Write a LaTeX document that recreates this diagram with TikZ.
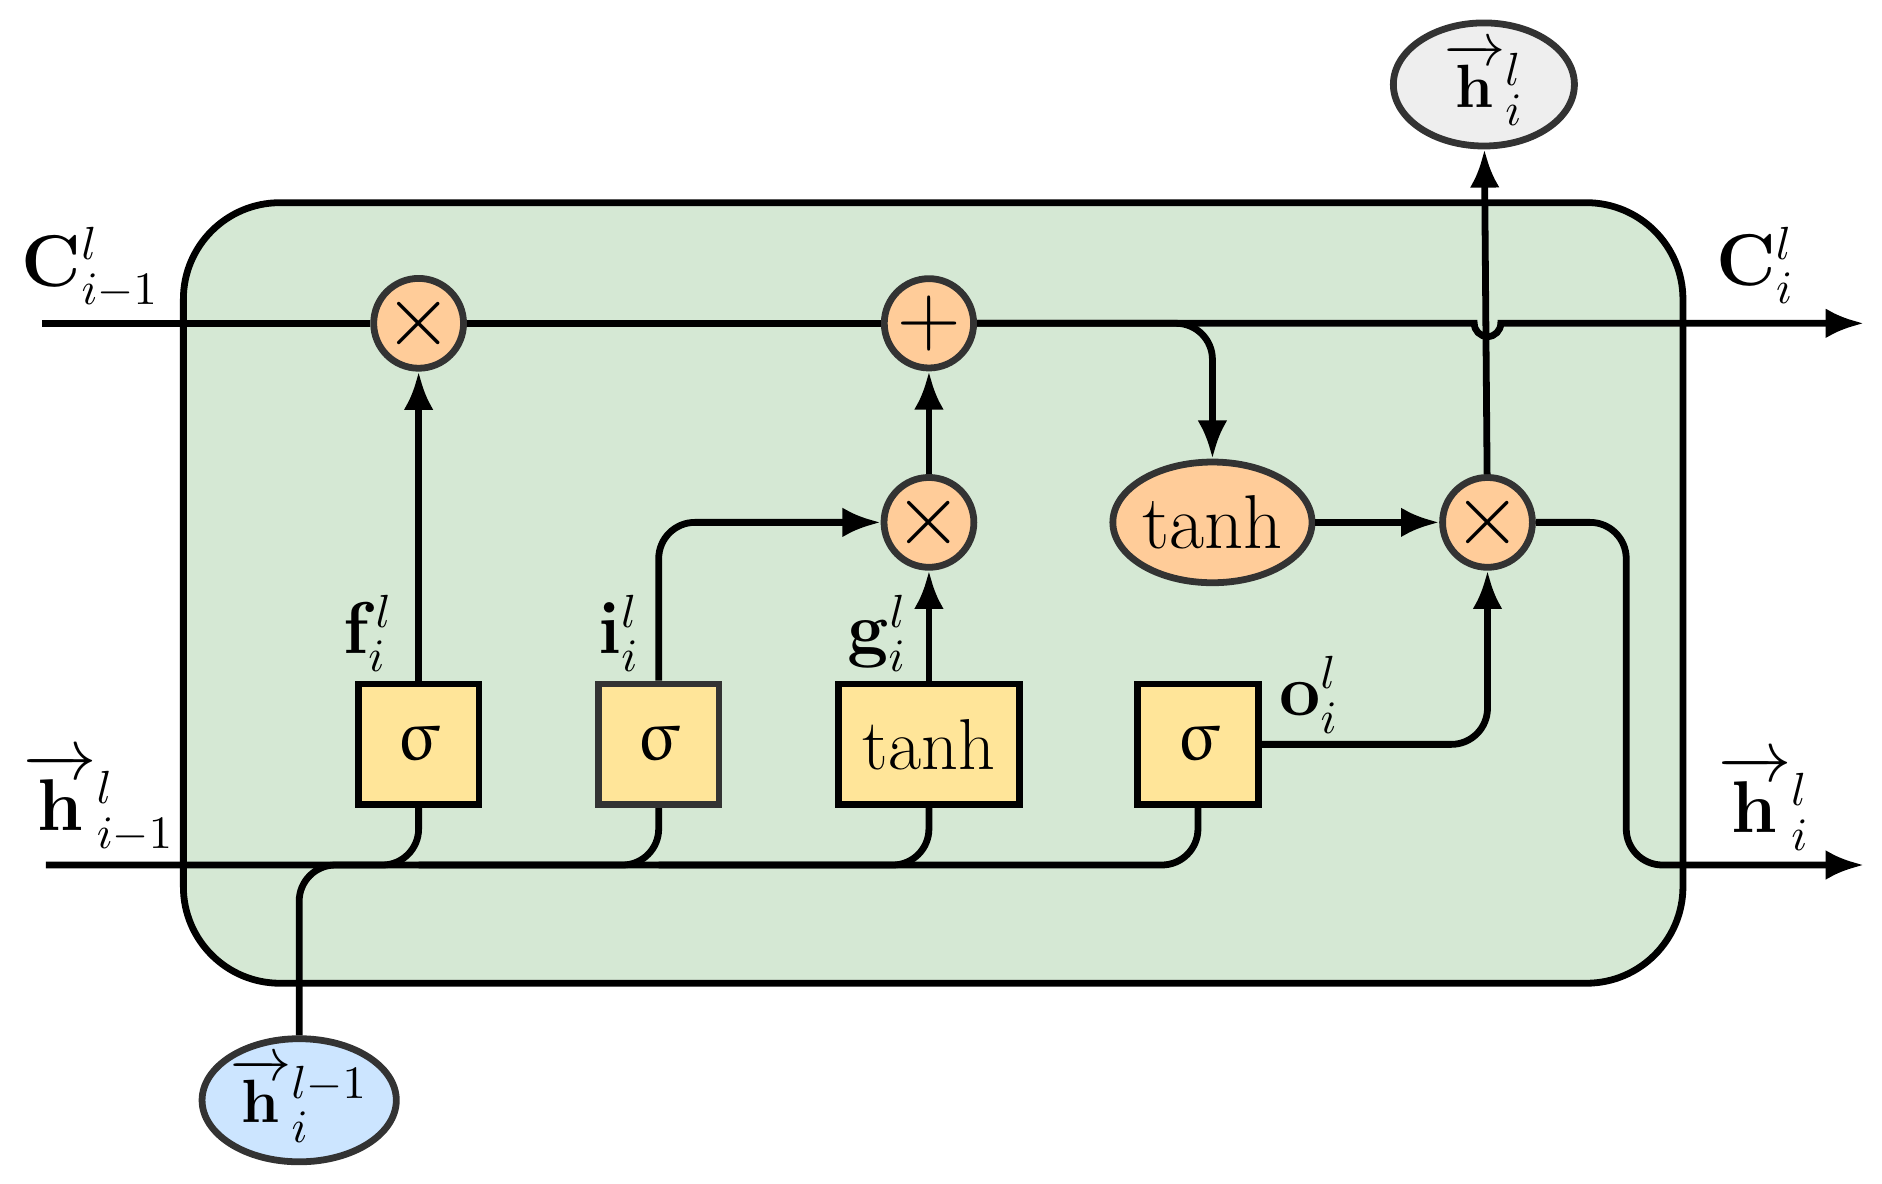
\documentclass[tikz,border=0pt]{standalone}
\usepackage{amsmath,upgreek}
\usetikzlibrary{arrows.meta,shapes.geometric}
\definecolor{cellg}{HTML}{D5E8D4}
\definecolor{opc}{HTML}{FFCC99}
\definecolor{boxy}{HTML}{FFE599}
\definecolor{outg}{HTML}{EEEEEE}
\definecolor{inb}{HTML}{CCE5FF}
\definecolor{dk}{HTML}{333333}
\begin{document}
\begin{tikzpicture}[x=0.01cm,y=-0.01cm,line width=1.6pt,
  ar/.style={-{Latex[length=9pt,width=7pt]}},
  op/.style={circle,draw=dk,fill=opc,minimum size=0.74cm,inner sep=0pt,font=\fontsize{20}{22}\selectfont},
  bx/.style={draw=black,fill=boxy,minimum width=1cm,minimum height=1cm,inner sep=0pt,font=\fontsize{17}{20}\selectfont},
  lbl/.style={font=\fontsize{16}{19}\selectfont},
  el/.style={ellipse,draw=dk,inner sep=0pt,minimum width=1.5cm,minimum height=1.02cm,font=\fontsize{15}{18}\selectfont},
  rc/.style={rounded corners=0.3cm}]
\useasboundingbox (0,0) rectangle (1560,981);
\fill[cellg,draw=black,rounded corners=0.8cm] (152,168) rectangle (1395,815);
\node[op] (m1) at (347,268) {$\times$};
\node[op] (p1) at (770,268) {$+$};
\node[op] (m2) at (770,433) {$\times$};
\node[op] (m3) at (1233,433) {$\times$};
\node[el,fill=opc,minimum width=1.65cm,minimum height=1cm,font=\fontsize{18}{20}\selectfont] (th) at (1005,433) {tanh};
\node[bx] (f) at (347,617) {$\upsigma$};
\node[bx,draw=dk] (i) at (546,617) {$\upsigma$};
\node[bx,minimum width=1.5cm] (g) at (770,617) {tanh};
\node[bx] (o) at (993,617) {$\upsigma$};
\node[el,fill=outg] (ho) at (1230,70) {$\overrightarrow{\mathbf h}{}^{l}_{i}$};
\node[el,fill=inb] (hi) at (248,912) {$\overrightarrow{\mathbf h}{}^{l-1}_{i}$};
\coordinate (cin) at (35,268); \coordinate (cout) at (1545,268);
\coordinate (hin) at (38,717); \coordinate (hout) at (1545,717);
\draw (cin) -- (m1) -- (p1);
\draw[ar] (p1) -- (1222,268) arc (180:0:11) -- (cout);
\draw[ar,rc] (p1) -- (1005,268) -- (th);
\draw[rc] (hin) -- (993,717) -- (o);
\draw[rc] (hi) -- (248,717) -- (347,717) -- (f);
\draw[rc] (347,717) -- (546,717) -- (i);
\draw[rc] (546,717) -- (770,717) -- (g);
\draw[ar] (f) -- (m1);
\draw[ar,rc] (i) -- (546,433) -- (m2);
\draw[ar] (g) -- (m2);
\draw[ar] (m2) -- (p1);
\draw[ar] (th) -- (m3);
\draw[ar,rc] (o) -- (1233,617) -- (m3);
\draw[ar] (m3) -- (ho);
\draw[ar,rc] (m3) -- (1348,433) -- (1348,717) -- (hout);
\node[lbl] at (75,222) {$\mathbf C^{l}_{i-1}$};
\node[lbl] at (1455,220) {$\mathbf C^{l}_{i}$};
\node[lbl] at (82,665) {$\overrightarrow{\mathbf h}{}^{l}_{i-1}$};
\node[lbl] at (1462,665) {$\overrightarrow{\mathbf h}{}^{l}_{i}$};
\node[lbl] at (305,525) {$\mathbf f^{l}_{i}$};
\node[lbl] at (513,525) {$\mathbf i^{l}_{i}$};
\node[lbl] at (727,525) {$\mathbf g^{l}_{i}$};
\node[lbl] at (1085,576) {$\mathbf o^{l}_{i}$};
\end{tikzpicture}
\end{document}
